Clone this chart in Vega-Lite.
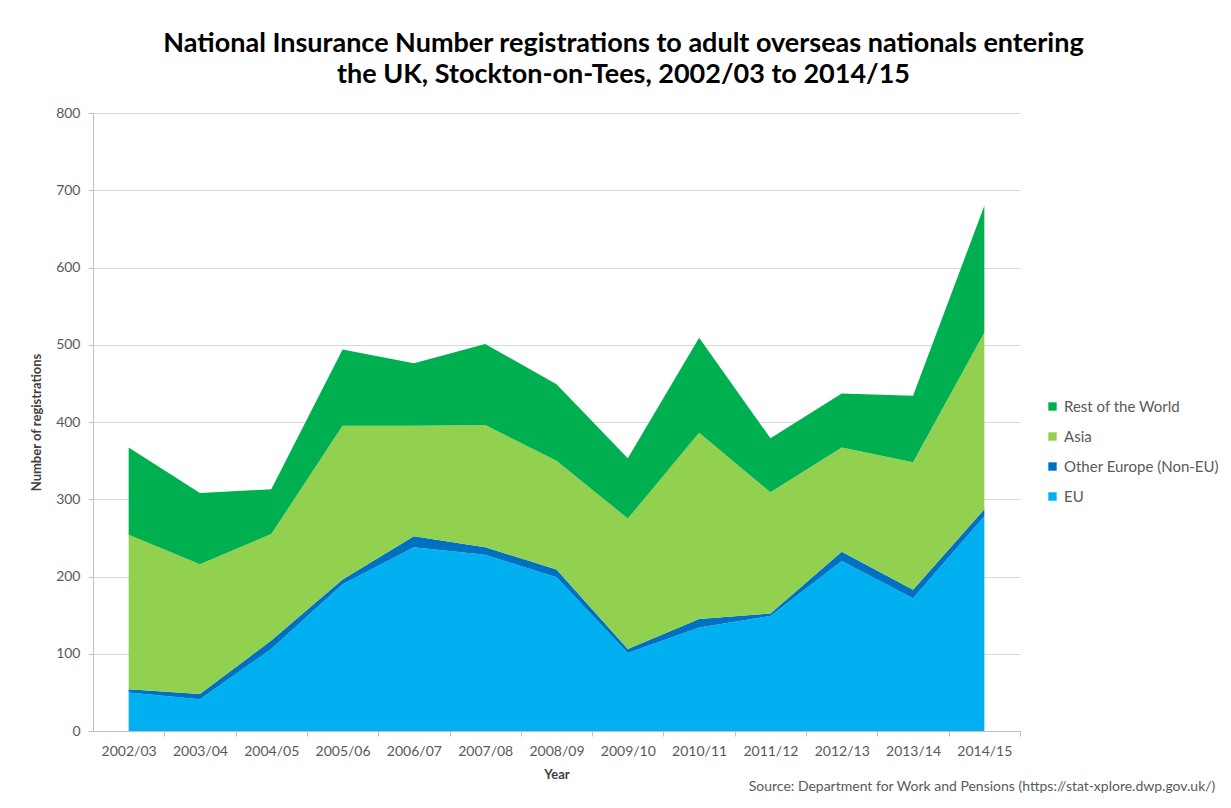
{
  "$schema": "https://vega.github.io/schema/vega-lite/v6.json",
  "width": 927,
  "height": 618,
  "autosize": {"type": "none"},
  "padding": {"left": 93, "top": 113, "right": 211, "bottom": 77},
  "background": "white",
  "config": {"font": "Lato", "view": {"stroke": null}},
  "title": {
    "text": ["National Insurance Number registrations to adult overseas nationals entering", "the UK, Stockton-on-Tees, 2002/03 to 2014/15"],
    "fontSize": 27,
    "fontWeight": "bold",
    "color": "#000000",
    "anchor": "middle",
    "dx": 67,
    "offset": 17,
    "lineHeight": 31
  },
  "data": {
    "values": [
      {"year": "2002/03", "region": "EU", "rank": 1, "registrations": 50},
      {"year": "2002/03", "region": "Other Europe (Non-EU)", "rank": 2, "registrations": 4},
      {"year": "2002/03", "region": "Asia", "rank": 3, "registrations": 200},
      {"year": "2002/03", "region": "Rest of the World", "rank": 4, "registrations": 113},
      {"year": "2003/04", "region": "EU", "rank": 1, "registrations": 41},
      {"year": "2003/04", "region": "Other Europe (Non-EU)", "rank": 2, "registrations": 7},
      {"year": "2003/04", "region": "Asia", "rank": 3, "registrations": 168},
      {"year": "2003/04", "region": "Rest of the World", "rank": 4, "registrations": 92},
      {"year": "2004/05", "region": "EU", "rank": 1, "registrations": 106},
      {"year": "2004/05", "region": "Other Europe (Non-EU)", "rank": 2, "registrations": 11},
      {"year": "2004/05", "region": "Asia", "rank": 3, "registrations": 138},
      {"year": "2004/05", "region": "Rest of the World", "rank": 4, "registrations": 58},
      {"year": "2005/06", "region": "EU", "rank": 1, "registrations": 190},
      {"year": "2005/06", "region": "Other Europe (Non-EU)", "rank": 2, "registrations": 6},
      {"year": "2005/06", "region": "Asia", "rank": 3, "registrations": 199},
      {"year": "2005/06", "region": "Rest of the World", "rank": 4, "registrations": 99},
      {"year": "2006/07", "region": "EU", "rank": 1, "registrations": 238},
      {"year": "2006/07", "region": "Other Europe (Non-EU)", "rank": 2, "registrations": 14},
      {"year": "2006/07", "region": "Asia", "rank": 3, "registrations": 143},
      {"year": "2006/07", "region": "Rest of the World", "rank": 4, "registrations": 81},
      {"year": "2007/08", "region": "EU", "rank": 1, "registrations": 228},
      {"year": "2007/08", "region": "Other Europe (Non-EU)", "rank": 2, "registrations": 10},
      {"year": "2007/08", "region": "Asia", "rank": 3, "registrations": 158},
      {"year": "2007/08", "region": "Rest of the World", "rank": 4, "registrations": 105},
      {"year": "2008/09", "region": "EU", "rank": 1, "registrations": 199},
      {"year": "2008/09", "region": "Other Europe (Non-EU)", "rank": 2, "registrations": 10},
      {"year": "2008/09", "region": "Asia", "rank": 3, "registrations": 141},
      {"year": "2008/09", "region": "Rest of the World", "rank": 4, "registrations": 99},
      {"year": "2009/10", "region": "EU", "rank": 1, "registrations": 101},
      {"year": "2009/10", "region": "Other Europe (Non-EU)", "rank": 2, "registrations": 5},
      {"year": "2009/10", "region": "Asia", "rank": 3, "registrations": 169},
      {"year": "2009/10", "region": "Rest of the World", "rank": 4, "registrations": 78},
      {"year": "2010/11", "region": "EU", "rank": 1, "registrations": 134},
      {"year": "2010/11", "region": "Other Europe (Non-EU)", "rank": 2, "registrations": 11},
      {"year": "2010/11", "region": "Asia", "rank": 3, "registrations": 241},
      {"year": "2010/11", "region": "Rest of the World", "rank": 4, "registrations": 123},
      {"year": "2011/12", "region": "EU", "rank": 1, "registrations": 149},
      {"year": "2011/12", "region": "Other Europe (Non-EU)", "rank": 2, "registrations": 3},
      {"year": "2011/12", "region": "Asia", "rank": 3, "registrations": 157},
      {"year": "2011/12", "region": "Rest of the World", "rank": 4, "registrations": 70},
      {"year": "2012/13", "region": "EU", "rank": 1, "registrations": 220},
      {"year": "2012/13", "region": "Other Europe (Non-EU)", "rank": 2, "registrations": 12},
      {"year": "2012/13", "region": "Asia", "rank": 3, "registrations": 135},
      {"year": "2012/13", "region": "Rest of the World", "rank": 4, "registrations": 70},
      {"year": "2013/14", "region": "EU", "rank": 1, "registrations": 172},
      {"year": "2013/14", "region": "Other Europe (Non-EU)", "rank": 2, "registrations": 11},
      {"year": "2013/14", "region": "Asia", "rank": 3, "registrations": 165},
      {"year": "2013/14", "region": "Rest of the World", "rank": 4, "registrations": 86},
      {"year": "2014/15", "region": "EU", "rank": 1, "registrations": 278},
      {"year": "2014/15", "region": "Other Europe (Non-EU)", "rank": 2, "registrations": 9},
      {"year": "2014/15", "region": "Asia", "rank": 3, "registrations": 229},
      {"year": "2014/15", "region": "Rest of the World", "rank": 4, "registrations": 164}
    ]
  },
  "layer": [
    {
      "mark": {"type": "area", "opacity": 1},
      "encoding": {
        "x": {
          "field": "year",
          "type": "ordinal",
          "scale": {"type": "point", "padding": 0.5},
          "axis": {
            "title": "Year",
            "titleFontSize": 13,
            "titleFontWeight": "bold",
            "titleColor": "#404040",
            "titlePadding": 10,
            "labelAngle": 0,
            "labelFontSize": 14,
            "labelColor": "#595959",
            "labelPadding": 8,
            "tickOffset": 35.65,
            "labelOffset": -35.65,
            "tickSize": 5,
            "tickColor": "#bfbfbf",
            "domainColor": "#bfbfbf",
            "grid": false
          }
        },
        "y": {
          "field": "registrations",
          "type": "quantitative",
          "stack": "zero",
          "scale": {"domain": [0, 800]},
          "axis": {
            "title": "Number of registrations",
            "titleFontSize": 13,
            "titleFontWeight": "bold",
            "titleColor": "#404040",
            "titlePadding": 12,
            "values": [0, 100, 200, 300, 400, 500, 600, 700, 800],
            "labelFontSize": 14,
            "labelColor": "#595959",
            "labelPadding": 8,
            "tickSize": 5,
            "tickColor": "#bfbfbf",
            "domainColor": "#bfbfbf",
            "grid": true,
            "gridColor": "#d9d9d9"
          }
        },
        "color": {
          "field": "region",
          "type": "nominal",
          "scale": {
            "domain": ["Rest of the World", "Asia", "Other Europe (Non-EU)", "EU"],
            "range": ["#00B050", "#92D050", "#0070C0", "#00B0F0"]
          },
          "legend": {
            "orient": "none",
            "legendX": 952,
            "legendY": 286,
            "title": null,
            "symbolType": "square",
            "symbolSize": 70,
            "symbolStrokeWidth": 0,
            "symbolOpacity": 1,
            "labelFontSize": 15,
            "labelColor": "#595959",
            "rowPadding": 14
          }
        },
        "order": {"field": "rank", "type": "quantitative", "sort": "ascending"}
      }
    },
    {
      "data": {"values": [{"note": "Source: Department for Work and Pensions (https://stat-xplore.dwp.gov.uk/)"}]},
      "mark": {"type": "text", "align": "right", "baseline": "middle", "dx": 231, "dy": 56, "fontSize": 14, "color": "#595959"},
      "encoding": {
        "x": {"datum": "2014/15", "type": "ordinal"},
        "y": {"datum": 0, "type": "quantitative"},
        "text": {"field": "note"}
      }
    }
  ]
}
